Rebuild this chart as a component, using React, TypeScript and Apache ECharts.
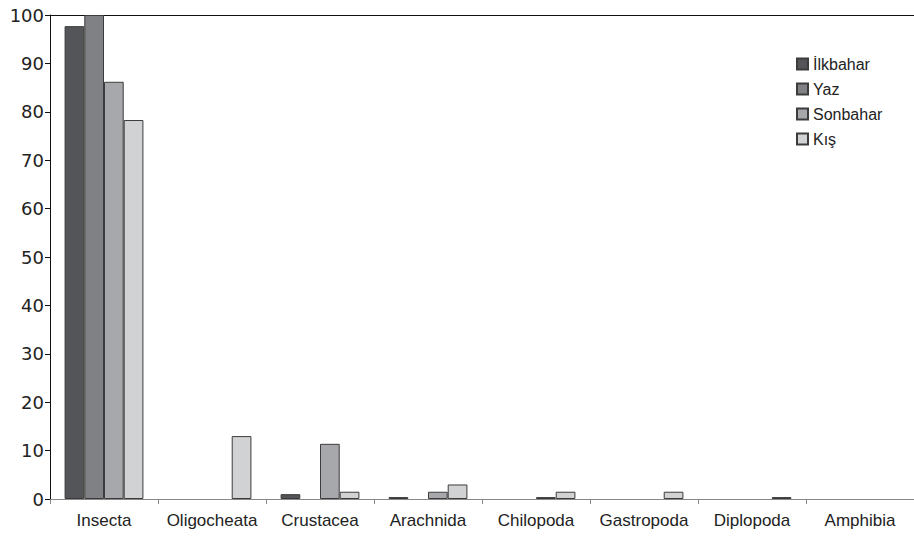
import React, { useEffect, useRef } from "react";
import * as echarts from "echarts";

const categories = ["Insecta", "Oligocheata", "Crustacea", "Arachnida", "Chilopoda", "Gastropoda", "Diplopoda", "Amphibia"];
const seriesNames = ["İlkbahar", "Yaz", "Sonbahar", "Kış"];
const ilkbahar = [97.7, 0, 1.0, 0.4, 0, 0, 0, 0];
const yaz = [100, 0, 0, 0, 0, 0, 0, 0];
const sonbahar = [86.2, 0, 11.4, 1.5, 0.4, 0, 0, 0];
const kis = [78.3, 13.0, 1.5, 3.0, 1.5, 1.5, 0.4, 0];
const colors = ["#545558", "#808184", "#a7a8ab", "#d1d2d4"];

export default function App() {
  const ref = useRef<HTMLDivElement>(null);
  useEffect(() => {
    const chart = echarts.init(ref.current!, null, { renderer: "svg" });
    const data = [ilkbahar, yaz, sonbahar, kis];
    chart.setOption({
      animation: false,
      textStyle: { fontFamily: "Liberation Sans" },
      grid: { left: 50, top: 15, width: 872, height: 484, containLabel: false },
      legend: {
        orient: "vertical",
        left: 791,
        top: 50,
        itemWidth: 11,
        itemHeight: 11,
        itemGap: 7,
        icon: "rect",
        textStyle: { fontSize: 16, color: "#222", lineHeight: 18 },
        data: seriesNames,
      },
      xAxis: [
        {
          type: "category",
          data: categories,
          position: "bottom",
          axisLine: { lineStyle: { color: "#888", width: 1 } },
          axisTick: { show: true, length: 5, lineStyle: { color: "#888" } },
          axisLabel: { fontSize: 17, color: "#222", margin: 13, interval: 0 },
        },
        {
          type: "category",
          data: categories,
          position: "top",
          axisLine: { lineStyle: { color: "#111", width: 1 } },
          axisTick: { show: false },
          axisLabel: { show: false },
        },
      ],
      yAxis: {
        type: "value",
        min: 0,
        max: 100,
        interval: 10,
        axisLine: { show: true, lineStyle: { color: "#111" } },
        axisTick: { show: true, length: 5, lineStyle: { color: "#111" } },
        splitLine: { show: false },
        axisLabel: { fontSize: 18, color: "#222", margin: 6, fontFamily: "DejaVu Sans" },
      },
      series: seriesNames.map((name, i) => ({
        name,
        type: "bar",
        data: data[i].map((v) => (v === 0 ? "-" : v)),
        barGap: "0%",
        barCategoryGap: "27%",
        itemStyle: { color: colors[i], borderColor: "#3c3c3c", borderWidth: 1 },
      })),
    });
    return () => chart.dispose();
  }, []);
  return (
    <div
      ref={ref}
      style={{ position: "absolute", left: 0, top: 0, width: 914, height: 538, background: "#fff" }}
    />
  );
}
